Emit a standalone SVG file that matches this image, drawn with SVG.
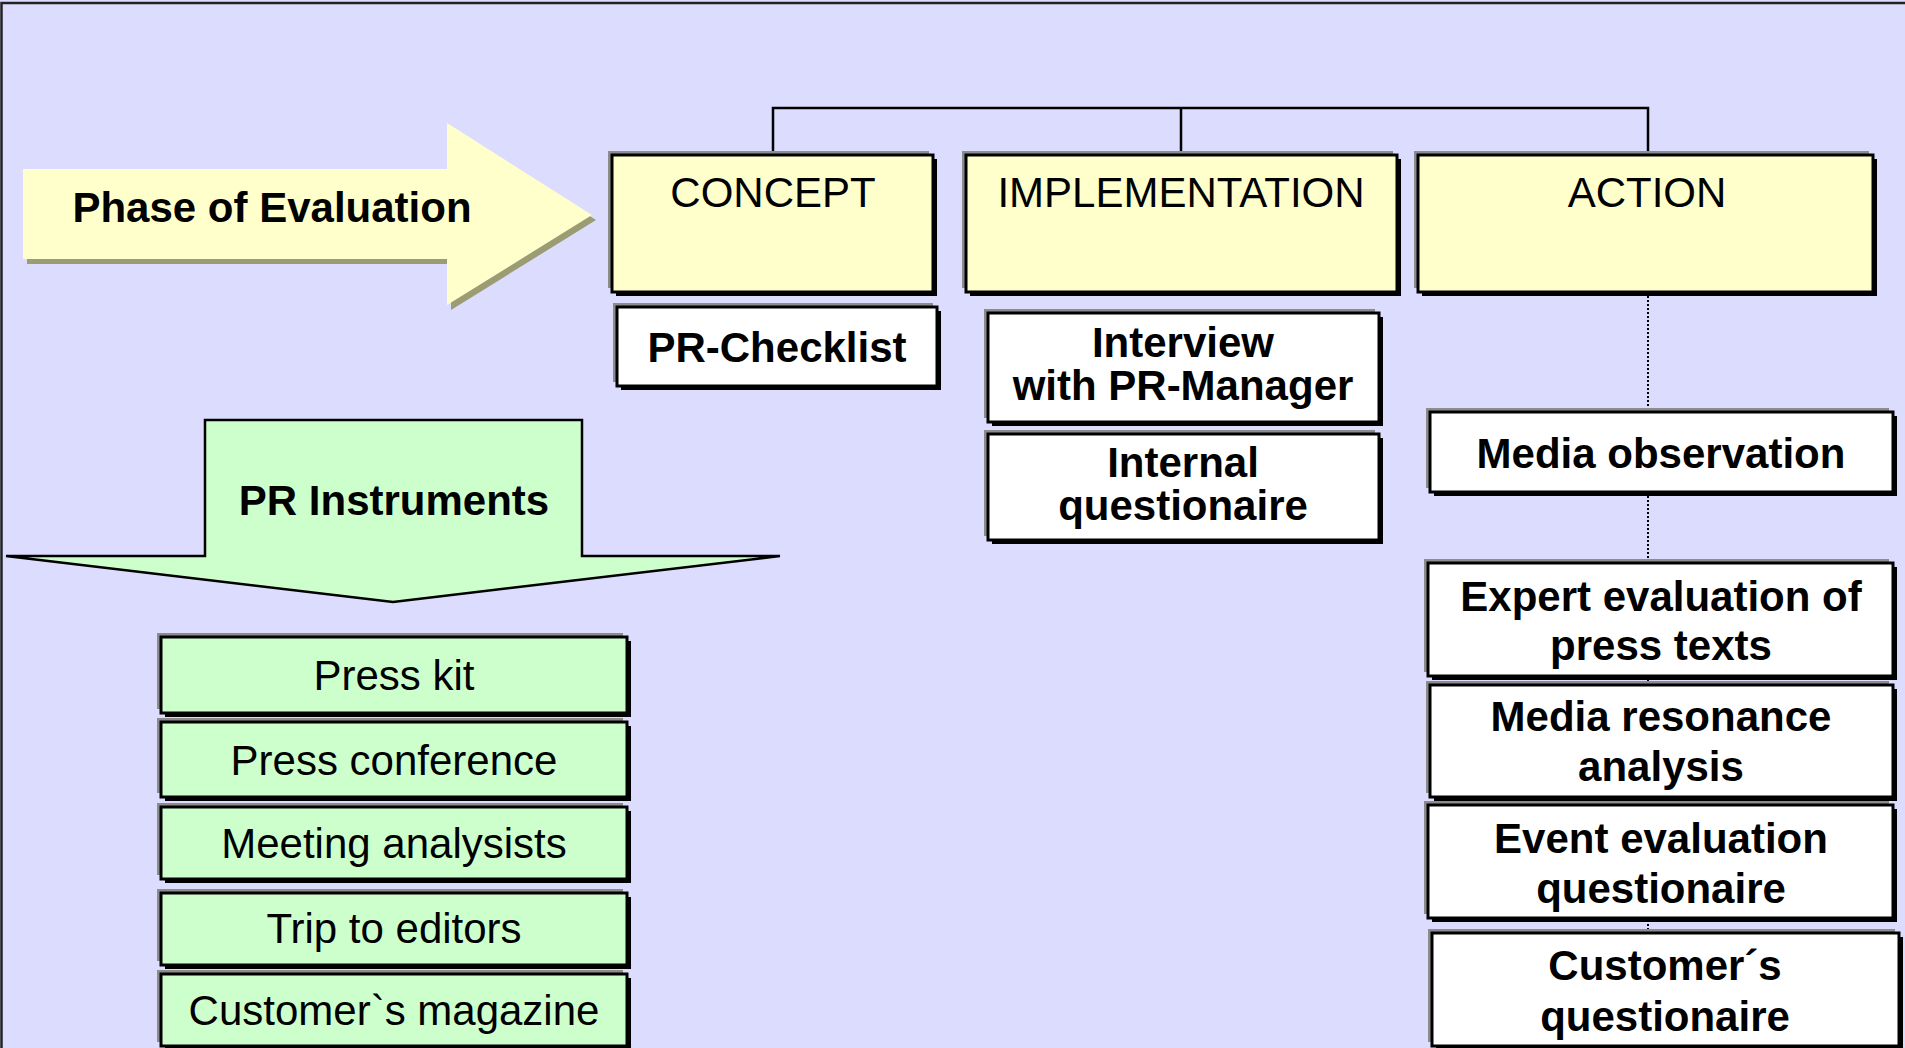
<svg xmlns="http://www.w3.org/2000/svg" width="1905" height="1048" viewBox="0 0 1905 1048">
<style>
text{font-family:"Liberation Sans",Arial,Helvetica,sans-serif;font-size:42px;fill:#000;text-anchor:middle}
.b{font-weight:bold}
.sg{fill:#8c8c8c}
.sb{fill:#000}
.box{stroke:#000;stroke-width:3}
.y{fill:#FFFFCC}
.w{fill:#FFFFFF}
.g{fill:#CCFFCC}
.conn{fill:none;stroke:#000;stroke-width:2.5}
.dot{fill:none;stroke:#000;stroke-width:2;stroke-dasharray:2 2}
</style>
<rect x="0" y="0" width="1905" height="1048" fill="#DCDCFF"/>
<path d="M1.5 1048 V3 H1905" fill="none" stroke="#222" stroke-width="2.5"/>

<g id="connectors">
<path class="conn" d="M773 155 V108 H1648 V155 M1181 108 V155"/>
<path class="dot" d="M1648 292 V935"/>
</g>

<g id="phase-arrow">
<polygon points="27,174 451,174 451,128 596,220 451,310 451,264 27,264" fill="#9C9C74"/>
<polygon points="23,169 447,169 447,123 592,215 447,305 447,259 23,259" fill="#FFFFCC"/>
<text class="b" x="272" y="222">Phase of Evaluation</text>
</g>

<g id="concept">
<rect class="sg" x="608" y="151" width="321" height="137"/>
<rect class="sb" x="616" y="159" width="321" height="137"/>
<rect class="box y" x="612" y="155" width="321" height="137"/>
<text x="773" y="207">CONCEPT</text>
</g>

<g id="implementation">
<rect class="sg" x="962" y="151" width="431" height="137"/>
<rect class="sb" x="970" y="159" width="431" height="137"/>
<rect class="box y" x="966" y="155" width="431" height="137"/>
<text x="1181" y="207">IMPLEMENTATION</text>
</g>

<g id="action">
<rect class="sg" x="1414" y="151" width="455" height="137"/>
<rect class="sb" x="1422" y="159" width="455" height="137"/>
<rect class="box y" x="1418" y="155" width="455" height="137"/>
<text x="1647" y="207">ACTION</text>
</g>

<g id="pr-checklist">
<rect class="sg" x="613" y="303" width="320" height="79"/>
<rect class="sb" x="621" y="311" width="320" height="79"/>
<rect class="box w" x="617" y="307" width="320" height="79"/>
<text class="b" x="777" y="362">PR-Checklist</text>
</g>

<g id="interview">
<rect class="sg" x="984" y="309" width="391" height="109"/>
<rect class="sb" x="992" y="317" width="391" height="109"/>
<rect class="box w" x="988" y="313" width="391" height="109"/>
<text class="b" x="1183" y="357">Interview</text>
<text class="b" x="1183" y="400">with PR-Manager</text>
</g>

<g id="internal-questionaire">
<rect class="sg" x="984" y="430" width="391" height="106"/>
<rect class="sb" x="992" y="438" width="391" height="106"/>
<rect class="box w" x="988" y="434" width="391" height="106"/>
<text class="b" x="1183" y="477">Internal</text>
<text class="b" x="1183" y="520">questionaire</text>
</g>

<g id="media-observation">
<rect class="sg" x="1426" y="408" width="463" height="80"/>
<rect class="sb" x="1434" y="416" width="463" height="80"/>
<rect class="box w" x="1430" y="412" width="463" height="80"/>
<text class="b" x="1661" y="468">Media observation</text>
</g>

<g id="expert-evaluation">
<rect class="sg" x="1424" y="559" width="465" height="113"/>
<rect class="sb" x="1432" y="567" width="465" height="113"/>
<rect class="box w" x="1428" y="563" width="465" height="113"/>
<text class="b" x="1661" y="611">Expert evaluation of</text>
<text class="b" x="1661" y="660">press texts</text>
</g>

<g id="media-resonance">
<rect class="sg" x="1426" y="681" width="463" height="112"/>
<rect class="sb" x="1434" y="689" width="463" height="112"/>
<rect class="box w" x="1430" y="685" width="463" height="112"/>
<text class="b" x="1661" y="731">Media resonance</text>
<text class="b" x="1661" y="781">analysis</text>
</g>

<g id="event-evaluation">
<rect class="sg" x="1424" y="801" width="465" height="113"/>
<rect class="sb" x="1432" y="809" width="465" height="113"/>
<rect class="box w" x="1428" y="805" width="465" height="113"/>
<text class="b" x="1661" y="853">Event evaluation</text>
<text class="b" x="1661" y="903">questionaire</text>
</g>

<g id="customers-questionaire">
<rect class="sg" x="1428" y="929" width="467" height="113"/>
<rect class="sb" x="1436" y="937" width="467" height="113"/>
<rect class="box w" x="1432" y="933" width="467" height="113"/>
<text class="b" x="1665" y="980">Customer´s</text>
<text class="b" x="1665" y="1031">questionaire</text>
</g>

<g id="pr-instruments-arrow">
<polygon points="205,420 582,420 582,556 780,556 393,602 6,556 205,556" fill="#CCFFCC" stroke="#000" stroke-width="2.5" stroke-linejoin="miter"/>
<text class="b" x="394" y="515">PR Instruments</text>
</g>

<g id="press-kit">
<rect class="sg" x="157" y="633" width="466" height="76"/>
<rect class="sb" x="165" y="641" width="466" height="76"/>
<rect class="box g" x="161" y="637" width="466" height="76"/>
<text x="394" y="690">Press kit</text>
</g>

<g id="press-conference">
<rect class="sg" x="157" y="718" width="466" height="75"/>
<rect class="sb" x="165" y="726" width="466" height="75"/>
<rect class="box g" x="161" y="722" width="466" height="75"/>
<text x="394" y="775">Press conference</text>
</g>

<g id="meeting-analysists">
<rect class="sg" x="157" y="803" width="466" height="72"/>
<rect class="sb" x="165" y="811" width="466" height="72"/>
<rect class="box g" x="161" y="807" width="466" height="72"/>
<text x="394" y="858">Meeting analysists</text>
</g>

<g id="trip-to-editors">
<rect class="sg" x="157" y="889" width="466" height="72"/>
<rect class="sb" x="165" y="897" width="466" height="72"/>
<rect class="box g" x="161" y="893" width="466" height="72"/>
<text x="394" y="943">Trip to editors</text>
</g>

<g id="customers-magazine">
<rect class="sg" x="157" y="970" width="466" height="72"/>
<rect class="sb" x="165" y="978" width="466" height="72"/>
<rect class="box g" x="161" y="974" width="466" height="72"/>
<text x="394" y="1025">Customer`s magazine</text>
</g>
</svg>
